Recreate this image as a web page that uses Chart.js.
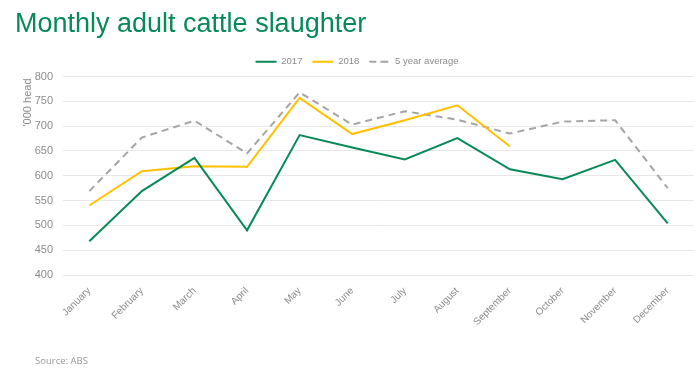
<!DOCTYPE html>
<html>
<head>
<meta charset="utf-8">
<script src="https://cdn.jsdelivr.net/npm/chart.js@4"></script>
<style>
    html, body { margin: 0; padding: 0; background: #fff; }
    #wrap { position: relative; width: 700px; height: 374px; }
    #title { position: absolute; left: 15px; top: 8px; font-family: "Liberation Sans", Arial, sans-serif; font-size: 27px; color: #078a57; white-space: nowrap; }
    #source { position: absolute; left: 35px; top: 354px; font-family: "Open Sans", sans-serif; font-size: 9.5px; color: #999; }
    canvas { position: absolute; left: 0; top: 0; }
</style>
</head>
<body>
<div id="wrap">
    <canvas id="chart" width="700" height="374"></canvas>
    <div id="title">Monthly adult cattle slaughter</div>
    <div id="source">Source: ABS</div>
</div>
<script>
// данные
const months = ['January', 'February', 'March', 'April', 'May', 'June', 'July', 'August', 'September', 'October', 'November', 'December'];
const y2017 = [468, 569, 636, 490, 682, 657, 633, 676, 613, 593, 632, 504];
const y2018 = [540, 609, 619, 618, 757, 684, 712, 742, 659];
const avg5 = [569, 677, 711, 645, 768, 703, 730, 713, 685, 709, 712, 575];
const yTicks = [400, 450, 500, 550, 600, 650, 700, 750, 800];

const gray = '#8c8c8c';
const font = '"Liberation Sans", Arial, sans-serif';

// подпись оси Y сверху, как в Excel
const axisTitle = {
    id: 'axisTitle',
    afterDraw(chart) {
        const ctx = chart.ctx;
        ctx.save();
        ctx.translate(33, chart.chartArea.top + 2);
        ctx.rotate(-Math.PI / 2);
        ctx.font = '11px ' + font;
        ctx.fillStyle = gray;
        ctx.textAlign = 'right';
        ctx.textBaseline = 'bottom';
        ctx.fillText("'000 head", 0, 0);
        ctx.restore();
    }
};

// сдвиг легенды немного вправо
const legendShift = {
    id: 'legendShift',
    afterUpdate(chart) {
        chart.legend.left += 10;
        chart.legend.right += 10;
    }
};

new Chart(document.getElementById('chart').getContext('2d'), {
    type: 'line',
    data: {
        labels: months,
        datasets: [{
            label: '2017',
            data: y2017,
            borderColor: '#078a57',
            backgroundColor: '#078a57',
            borderWidth: 2
        }, {
            label: '2018',
            data: y2018,
            borderColor: '#ffc000',
            backgroundColor: '#ffc000',
            borderWidth: 2
        }, {
            label: '5 year average',
            data: avg5,
            borderColor: '#a5a5a5',
            backgroundColor: '#a5a5a5',
            borderWidth: 2,
            borderDash: [7, 5]
        }]
    },
    options: {
        responsive: false,
        animation: false,
        elements: { point: { radius: 0 }, line: { tension: 0 } },
        layout: { padding: { top: 47, right: 6, bottom: 40, left: 0 } },
        plugins: {
            legend: {
                labels: {
                    color: gray,
                    font: { size: 9.5, family: font },
                    boxWidth: 21,
                    boxHeight: 0,
                    padding: 10
                }
            },
            tooltip: { enabled: false }
        },
        scales: {
            x: {
                offset: true,
                grid: { display: false },
                border: { display: false },
                ticks: {
                    color: gray,
                    font: { size: 10, family: font },
                    maxRotation: 45,
                    minRotation: 45,
                    padding: 2
                },
                afterFit(scale) { scale.height = 59; }
            },
            y: {
                min: 400,
                max: 800,
                grid: { color: '#e8e8e8', drawTicks: false },
                border: { display: false },
                afterBuildTicks(scale) { scale.ticks = yTicks.map(v => ({ value: v })); },
                ticks: {
                    color: gray,
                    font: { size: 11, family: font },
                    padding: 10
                },
                afterFit(scale) { scale.width = 63; }
            }
        }
    },
    plugins: [axisTitle, legendShift]
});
</script>
</body>
</html>
